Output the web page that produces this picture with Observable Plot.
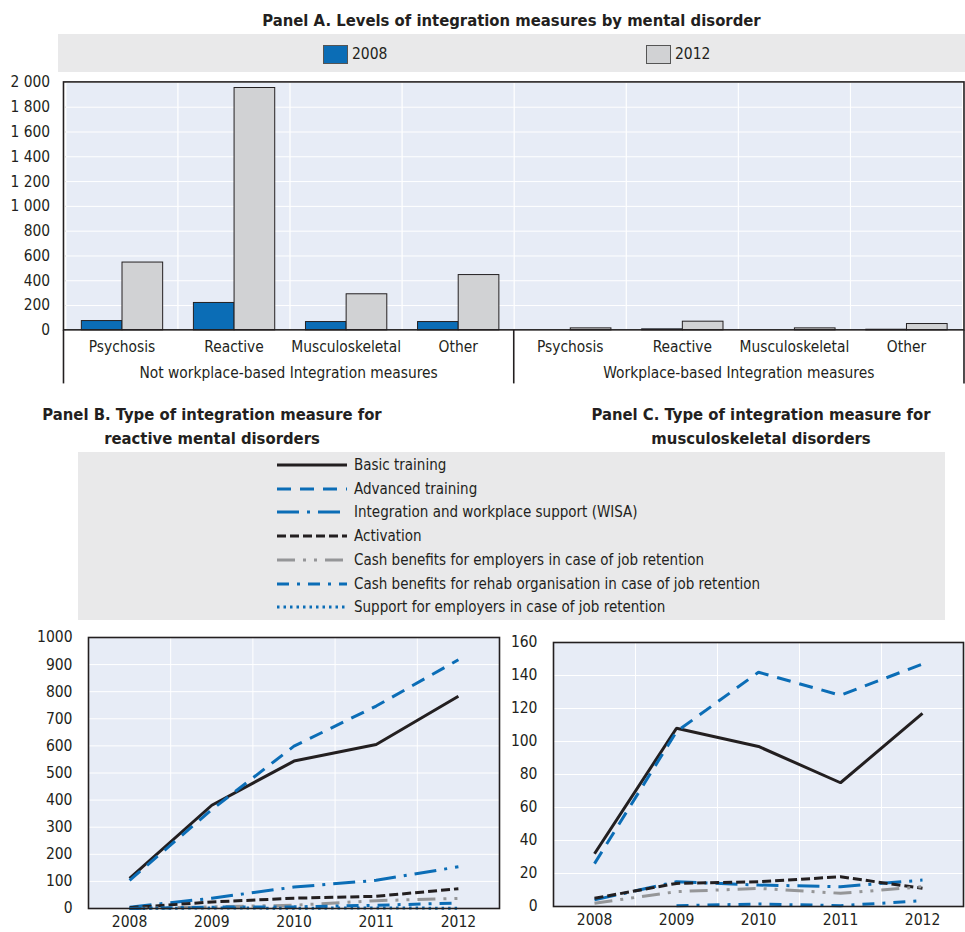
<!DOCTYPE html>
<html><head><meta charset="utf-8">
<script src="https://cdn.jsdelivr.net/npm/d3@7"></script>
<script src="https://cdn.jsdelivr.net/npm/@observablehq/plot@0.6"></script>
<style>
body{margin:0;background:#fff;}
#root{position:relative;width:965px;height:932px;overflow:hidden;font-family:"DejaVu Sans Condensed","Liberation Sans Narrow",sans-serif;color:#231f20;}
.abs{position:absolute;}
.title{font-weight:bold;font-size:16.5px;text-align:center;line-height:24px;white-space:nowrap;}
.lab{font-size:15.5px;line-height:20px;white-space:nowrap;}
.leg{font-size:15px;line-height:20px;white-space:nowrap;}
</style></head><body><div id="root"></div>
<script>
// ---------- DATA ----------
const titleA = "Panel A. Levels of integration measures by mental disorder";
const titleB = ["Panel B. Type of integration measure for", "reactive mental disorders"];
const titleC = ["Panel C. Type of integration measure for", "musculoskeletal disorders"];

const groupsA = ["Not workplace-based Integration measures", "Workplace-based Integration measures"];
const disordersA = ["Psychosis", "Reactive", "Musculoskeletal", "Other"];
const yearsA = ["2008", "2012"];
const notWorkplace2008 = [75, 221, 67, 67];
const notWorkplace2012 = [547, 1955, 291, 446];
const workplace2008 = [0, 8, 0, 5];
const workplace2012 = [16, 70, 16, 51];
const yTicksA = [0, 200, 400, 600, 800, 1000, 1200, 1400, 1600, 1800, 2000];

const lineYears = [2008, 2009, 2010, 2011, 2012];
const measures = [
  "Basic training",
  "Advanced training",
  "Integration and workplace support (WISA)",
  "Activation",
  "Cash benefits for employers in case of job retention",
  "Cash benefits for rehab organisation in case of job retention",
  "Support for employers in case of job retention"
];
// Panel B: reactive mental disorders
const reactiveBasic      = [111, 381, 544, 605, 783];
const reactiveAdvanced   = [104, 365, 599, 747, 918];
const reactiveWisa       = [5, 38, 79, 104, 154];
const reactiveActivation = [3, 24, 38, 45, 73];
const reactiveCashEmp    = [0, 6, 12, 29, 37];
const reactiveCashRehab  = [0, 5, 6, 12, 20];
const reactiveSupport    = [0, 2, 1, 2, 1];
const yTicksB = [0, 100, 200, 300, 400, 500, 600, 700, 800, 900, 1000];
// Panel C: musculoskeletal disorders
const muscBasic      = [32, 108, 97, 75, 117];
const muscAdvanced   = [26, 106, 142, 128, 147];
const muscWisa       = [4, 15, 13, 12, 16];
const muscActivation = [5, 14, 15, 18, 11];
const muscCashEmp    = [2, 9, 11, 8, 12];
const muscCashRehab  = [null, 0.5, 1.5, 0.5, 3.5];
const muscSupport    = [null, null, null, null, null];
const yTicksC = [0, 20, 40, 60, 80, 100, 120, 140, 160];

// ---------- STYLE ----------
const FONT = '"DejaVu Sans Condensed","Liberation Sans Narrow",sans-serif';
const FS = "15.5px";
const INK = "#231f20";
const BLUE = "#0b6db6";
const GREYBAR = "#d1d2d4";
const GREYLINE = "#959698";
const PLOTBG = "#e7ecf6";
const LEGBG = "#e9e9ea";
const lineStyles = [
  {stroke: INK,      dash: null},
  {stroke: BLUE,     dash: "14,9"},
  {stroke: BLUE,     dash: "22,8,3,8"},
  {stroke: INK,      dash: "9,4"},
  {stroke: GREYLINE, dash: "18,8,3,8,3,8"},
  {stroke: BLUE,     dash: "12,8,3,8"},
  {stroke: BLUE,     dash: "2.5,4"}
];

const root = document.getElementById("root");
function div(cls, css, html) {
  const d = document.createElement("div");
  d.className = cls; d.style.cssText = css; d.innerHTML = html; root.appendChild(d); return d;
}
function place(node, left, top) {
  node.style.position = "absolute"; node.style.left = left + "px"; node.style.top = top + "px";
  root.appendChild(node);
}

// ---------- PANEL A ----------
div("abs title", "left:58px;width:907px;top:9px;", titleA);
div("abs", `left:58px;top:34px;width:907px;height:38px;background:${LEGBG};`, "");
[[yearsA[0], BLUE, 323], [yearsA[1], GREYBAR, 646]].forEach(([t, c, x]) => {
  div("abs", `left:${x}px;top:45px;width:23px;height:17px;background:${c};border:1px solid #555;`, "");
  div("abs lab", `left:${x + 29}px;top:44px;`, t);
});

const rowsA = [];
const valuesA = [[notWorkplace2008, notWorkplace2012], [workplace2008, workplace2012]];
groupsA.forEach((g, gi) => disordersA.forEach((c, ci) => {
  yearsA.forEach((yr, yi) => rowsA.push({key: gi + "|" + c, group: g, category: c, year: yr, value: valuesA[gi][yi][ci]}));
}));
const keysA = [...new Set(rowsA.map(d => d.key))];
const fmtA = n => d3.format(",")(n).replace(/,/g, " ");

const chartA = Plot.plot({
  width: 973, height: 318, marginLeft: 64, marginRight: 1, marginTop: 10, marginBottom: 58,
  style: {fontFamily: FONT, fontSize: FS, color: INK, background: "transparent", overflow: "visible"},
  fx: {domain: keysA, padding: 0, axis: "bottom", tickSize: 0, tickPadding: 11, tickFormat: k => k.split("|")[1], label: null},
  x: {domain: yearsA, paddingInner: 0, paddingOuter: 0.35, axis: null},
  y: {domain: [0, 2000], ticks: yTicksA, tickFormat: fmtA, tickSize: -5, tickPadding: 21, label: null},
  color: {domain: yearsA, range: [BLUE, GREYBAR]},
  marks: [
    Plot.frame({fill: PLOTBG, stroke: "white"}),
    Plot.ruleY(yTicksA, {stroke: "white", strokeWidth: 1}),
    Plot.barY(rowsA, {fx: "key", x: "year", y: "value", fill: "year", stroke: INK, strokeWidth: 1})
  ]
});
place(chartA, 0, 72);
(function decorateA() {
  const fxS = chartA.scale("fx"), yS = chartA.scale("y");
  const band = d3.scaleBand().domain(fxS.domain).range(fxS.range).padding(0);
  const x0 = fxS.range[0], x1 = fxS.range[1];
  const yb = yS.range[0], yt = yS.range[1];
  const s = d3.select(chartA);
  s.append("rect").attr("x", x0).attr("y", yt).attr("width", x1 - x0).attr("height", yb - yt)
    .attr("fill", "none").attr("stroke", INK).attr("stroke-width", 1.6);
  const n = disordersA.length;
  groupsA.forEach((g, gi) => {
    const a = band(keysA[gi * n]), b = band(keysA[gi * n + n - 1]) + band.bandwidth();
    s.append("line").attr("x1", a).attr("x2", a).attr("y1", yb).attr("y2", yb + 54)
      .attr("stroke", INK).attr("stroke-width", 1.6);
    s.append("text").attr("x", (a + b) / 2).attr("y", yb + 43).attr("dy", "0.35em")
      .attr("text-anchor", "middle").attr("fill", INK).attr("font-family", FONT).attr("font-size", FS).text(g);
  });
  s.append("line").attr("x1", x1).attr("x2", x1).attr("y1", yb).attr("y2", yb + 54)
    .attr("stroke", INK).attr("stroke-width", 1.6);
})();

// ---------- LEGEND B/C ----------
div("abs title", "left:12px;width:400px;top:403px;", titleB.join("<br>"));
div("abs title", "left:561px;width:400px;top:403px;", titleC.join("<br>"));
div("abs", `left:78px;top:452px;width:867px;height:168px;background:${LEGBG};`, "");
measures.forEach((m, i) => {
  const st = lineStyles[i];
  const yc = 465 + i * 23.7;
  const ns = "http://www.w3.org/2000/svg";
  const sv = document.createElementNS(ns, "svg");
  sv.setAttribute("width", 70); sv.setAttribute("height", 8);
  const ln = document.createElementNS(ns, "line");
  ln.setAttribute("x1", 0); ln.setAttribute("x2", 70); ln.setAttribute("y1", 4); ln.setAttribute("y2", 4);
  ln.setAttribute("stroke", st.stroke); ln.setAttribute("stroke-width", 3);
  if (st.dash) ln.setAttribute("stroke-dasharray", st.dash);
  sv.appendChild(ln);
  place(sv, 277, Math.round(yc - 4));
  div("abs leg", `left:354px;top:${Math.round(yc - 10)}px;`, m);
});

// ---------- LINE PANELS ----------
function linePanel(seriesValues, yMax, yTicks, dims) {
  const boundaries = lineYears.slice(1).map(y => y - 0.5);
  const marks = [
    Plot.frame({fill: PLOTBG}),
    Plot.ruleY(yTicks, {stroke: "white", strokeWidth: 1}),
    Plot.ruleX(boundaries, {stroke: "white", strokeWidth: 1})
  ];
  seriesValues.forEach((vals, i) => {
    const st = lineStyles[i];
    const data = lineYears.map((yr, j) => ({year: yr, value: vals[j]}));
    marks.push(Plot.line(data, {x: "year", y: "value", stroke: st.stroke, strokeWidth: 3,
      strokeDasharray: st.dash || undefined, strokeLinejoin: "miter", strokeLinecap: "butt"}));
  });
  marks.push(Plot.frame({stroke: INK, strokeWidth: 1.6}));
  return Plot.plot({
    width: dims.width, height: dims.height,
    marginLeft: dims.ml, marginRight: dims.mr, marginTop: dims.mt, marginBottom: dims.mb,
    style: {fontFamily: FONT, fontSize: FS, color: INK, background: "transparent", overflow: "visible"},
    x: {type: "linear", domain: [lineYears[0] - 0.5, lineYears[lineYears.length - 1] + 0.5], ticks: lineYears,
        tickFormat: d => String(d), tickSize: 0, tickPadding: 7, label: null},
    y: {domain: [0, yMax], ticks: yTicks, tickFormat: d => String(d), tickSize: -5, tickPadding: 21, label: null},
    marks
  });
}
const chartB = linePanel([reactiveBasic, reactiveAdvanced, reactiveWisa, reactiveActivation, reactiveCashEmp, reactiveCashRehab, reactiveSupport],
  1000, yTicksB, {width: 500, height: 307, ml: 88, mr: 1, mt: 12, mb: 24});
place(chartB, 0, 625);
const chartC = linePanel([muscBasic, muscAdvanced, muscWisa, muscActivation, muscCashEmp, muscCashRehab, muscSupport],
  160, yTicksC, {width: 465, height: 307, ml: 53, mr: 2, mt: 17, mb: 26});
place(chartC, 500, 625);
</script>
</body></html>
